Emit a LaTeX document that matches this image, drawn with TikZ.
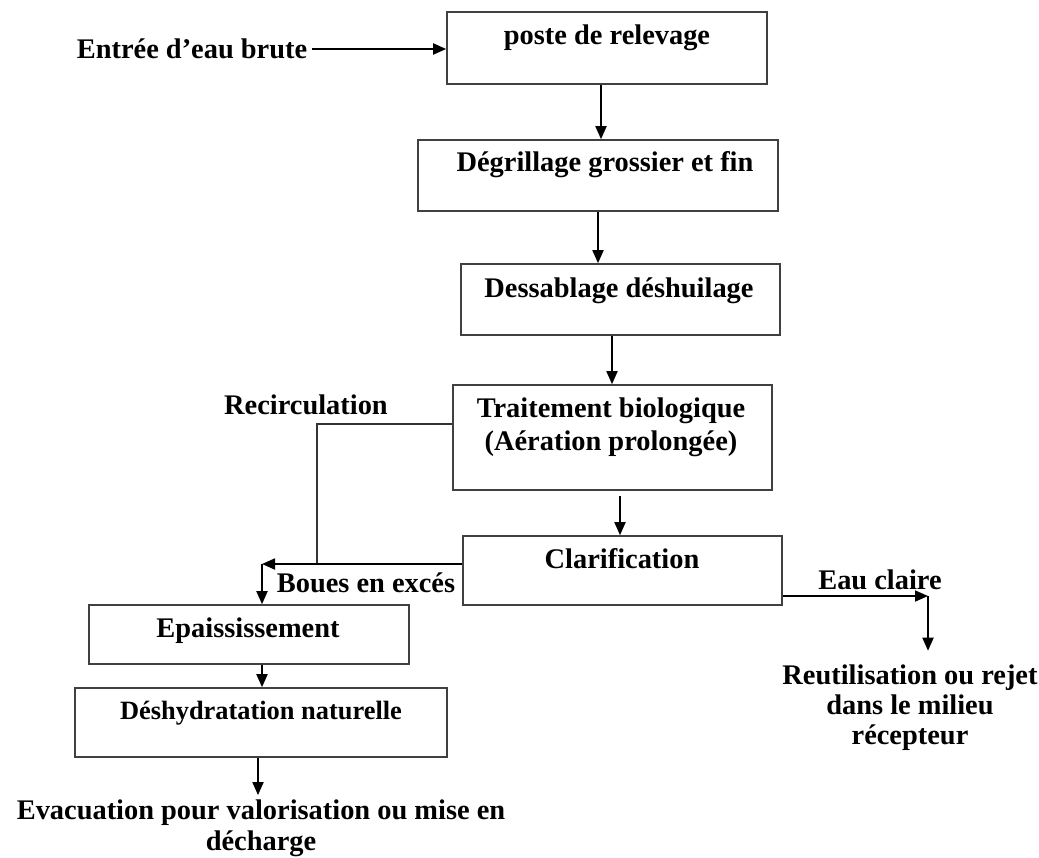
\documentclass[tikz,border=0pt]{standalone}
\usepackage{fontspec}
\setmainfont{Liberation Serif}
\usetikzlibrary{positioning,arrows.meta}

\tikzset{
    etape/.style={draw=black!75, line width=0.8pt, inner sep=0pt},
    texte/.style={font=\bfseries\fontsize{14.2}{16.5}\selectfont, align=center, inner sep=2pt},
    fleche/.style={line width=0.9pt, -{Triangle[length=6.5pt,width=5.5pt]}},
    trait/.style={line width=0.8pt, draw=black!80}
}

\begin{document}
\begin{tikzpicture}[x=0.5pt,y=-0.5pt]
\useasboundingbox (0,0) rectangle (1039,857);
% boxes
\node[etape, minimum width=160pt, minimum height=36pt] (poste) at (607,48) {};
\node[etape, minimum width=180pt, minimum height=35.5pt] (degr) at (598,175.5) {};
\node[etape, minimum width=159.5pt, minimum height=35.5pt] (dess) at (620.5,299.5) {};
\node[etape, minimum width=159.5pt, minimum height=52.5pt] (bio) at (612.5,437.5) {};
\node[etape, minimum width=159.5pt, minimum height=34.5pt] (clar) at (622.5,570.5) {};
\node[etape, minimum width=160pt, minimum height=29.5pt] (epais) at (249,634.5) {};
\node[etape, minimum width=186pt, minimum height=34.5pt] (deshy) at (261,722.5) {};
% texts
\node[texte] (posteT) at (607,38) {poste de relevage};
\node[texte] (degrT) at (605,165) {Dégrillage grossier et fin};
\node[texte] (dessT) at (619,291) {Dessablage déshuilage};
\node[texte] (bioT) at (611,427) {Traitement biologique\\(Aération prolongée)};
\node[texte] (clarT) at (622,559) {Clarification};
\node[texte] (epaisT) at (248,631) {Epaississement};
\node[texte, font=\bfseries\fontsize{13.2}{16}\selectfont] (deshyT) at (261,713) {Déshydratation naturelle};
\node[texte] (entree) at (192,49) {Entrée d’eau brute};
\node[texte] (recirc) at (306,405) {Recirculation};
\node[texte] (boues) at (366,583) {Boues en excés};
\node[texte] (eau) at (880,580) {Eau claire};
\node[texte, font=\bfseries\fontsize{14.2}{15}\selectfont] (reut) at (910,708) {Reutilisation ou rejet\\dans le milieu\\récepteur};
\node[texte, font=\bfseries\fontsize{14.2}{15.5}\selectfont] (evac) at (261,828) {Evacuation pour valorisation ou mise en\\décharge};
% junctions
\coordinate (bifur) at (262,564);
\coordinate (retour) at (317,564);
\coordinate (sortie) at (928,596);
% connectors
\draw[fleche] (entree.east) -- (entree.east -| poste.west);
\draw[fleche] ([xshift=-3pt]poste.south) -- ([xshift=-3pt]poste.south |- degr.north);
\draw[fleche] (degr.south) -- (degr.south |- dess.north);
\draw[fleche] ([xshift=-4.25pt]dess.south) -- ([xshift=-4.25pt]dess.south |- bio.north);
\draw[fleche, shorten <=2.5pt] ([xshift=3.75pt]bio.south) -- ([xshift=3.75pt]bio.south |- clar.north);
\draw[trait] ([yshift=6.75pt]bio.west) -| (retour);
\draw[fleche] ([yshift=3.25pt]clar.west) -- (bifur);
\draw[fleche] (bifur) -- (bifur |- epais.north);
\draw[fleche] ([xshift=6.5pt]epais.south) -- ([xshift=6.5pt]epais.south |- deshy.north);
\draw[fleche] ([xshift=-1.5pt]deshy.south) -- ([xshift=-1.5pt]deshy.south |- evac.north);
\draw[fleche] ([yshift=-12.75pt]clar.east) -- (sortie);
\draw[fleche, shorten >=5pt] (sortie) -- (sortie |- reut.north);
\end{tikzpicture}
\end{document}
